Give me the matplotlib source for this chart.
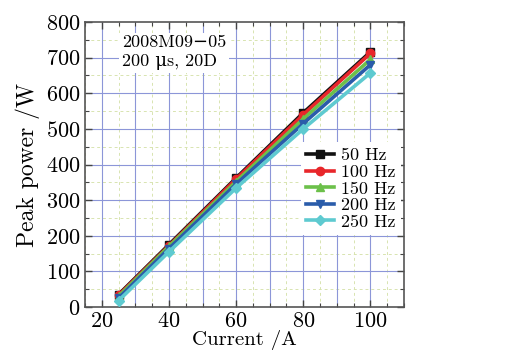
import matplotlib
matplotlib.use("Agg")
import matplotlib.pyplot as plt
from matplotlib.ticker import MultipleLocator

plt.rcParams['font.family'] = ['cmr10', 'DejaVu Serif']
plt.rcParams['mathtext.fontset'] = 'cm'
plt.rcParams['axes.formatter.use_mathtext'] = True

current = [25, 40, 60, 80, 100]
labels = ['50 Hz', '100 Hz', '150 Hz', '200 Hz', '250 Hz']
p50 = [35, 175, 362, 545, 716]
p100 = [33, 172, 359, 540, 712]
p150 = [30, 170, 352, 528, 695]
p200 = [25, 164, 345, 515, 680]
p250 = [18, 155, 334, 500, 657]

series = [p50, p100, p150, p200, p250]
colors = ['#111111', '#e8262a', '#6cc04a', '#2a5caa', '#5ecad0']
markers = ['s', 'o', '^', 'v', 'D']

fig = plt.figure(figsize=(5.07, 3.53), dpi=100)
ax = fig.add_axes([85 / 507, 1 - 307 / 353, 319 / 507, 285 / 353])

for ys, c, m, lab in zip(series, colors, markers, labels):
    ax.plot(current, ys, color=c, marker=m, lw=2.6, ms=6 if m != 'D' else 5,
            label=lab, zorder=3)

ax.set_xlim(15, 110)
ax.set_ylim(0, 800)
ax.xaxis.set_major_locator(MultipleLocator(20))
ax.xaxis.set_minor_locator(MultipleLocator(5))
ax.yaxis.set_major_locator(MultipleLocator(100))
ax.yaxis.set_minor_locator(MultipleLocator(50))

# blue grid every 10 in x, every 100 in y; dotted pale grid in between
for xv in range(20, 110, 10):
    ax.axvline(xv, color='#8c96d8', lw=0.8, zorder=1)
for xv in range(15, 110, 10):
    ax.axvline(xv, color='#d8e4b0', lw=0.7, ls=(0, (3, 3)), zorder=0)
for yv in range(100, 800, 100):
    ax.axhline(yv, color='#8c96d8', lw=0.8, zorder=1)
for yv in range(50, 800, 100):
    ax.axhline(yv, color='#d8e4b0', lw=0.7, ls=(0, (3, 3)), zorder=0)

ax.tick_params(which='both', direction='in', top=True, right=True, labelsize=16,
               color='#444444')
ax.tick_params(which='major', length=5, width=1)
ax.tick_params(which='minor', length=3, width=0.8)
for s in ax.spines.values():
    s.set_color('#555555')
    s.set_linewidth(1.2)

ax.set_xlabel('Current /A', fontsize=15, labelpad=-1)
ax.set_ylabel('Peak power /W', fontsize=17, labelpad=4)

ax.text(0.115, 0.955, '2008M09\u221205\n200 \u03bcs, 20D', transform=ax.transAxes,
        fontsize=13, va='top', ha='left', linespacing=1.3, zorder=4,
        bbox=dict(facecolor='white', edgecolor='none', pad=2))

leg = ax.legend(loc='center right', bbox_to_anchor=(0.99, 0.415), fontsize=13,
                frameon=True, fancybox=False, edgecolor='none', framealpha=1,
                handlelength=1.5, handletextpad=0.4, labelspacing=0.05,
                borderpad=0.3, borderaxespad=0.0)
leg.set_zorder(5)

fig.savefig('out.png', dpi=100)
